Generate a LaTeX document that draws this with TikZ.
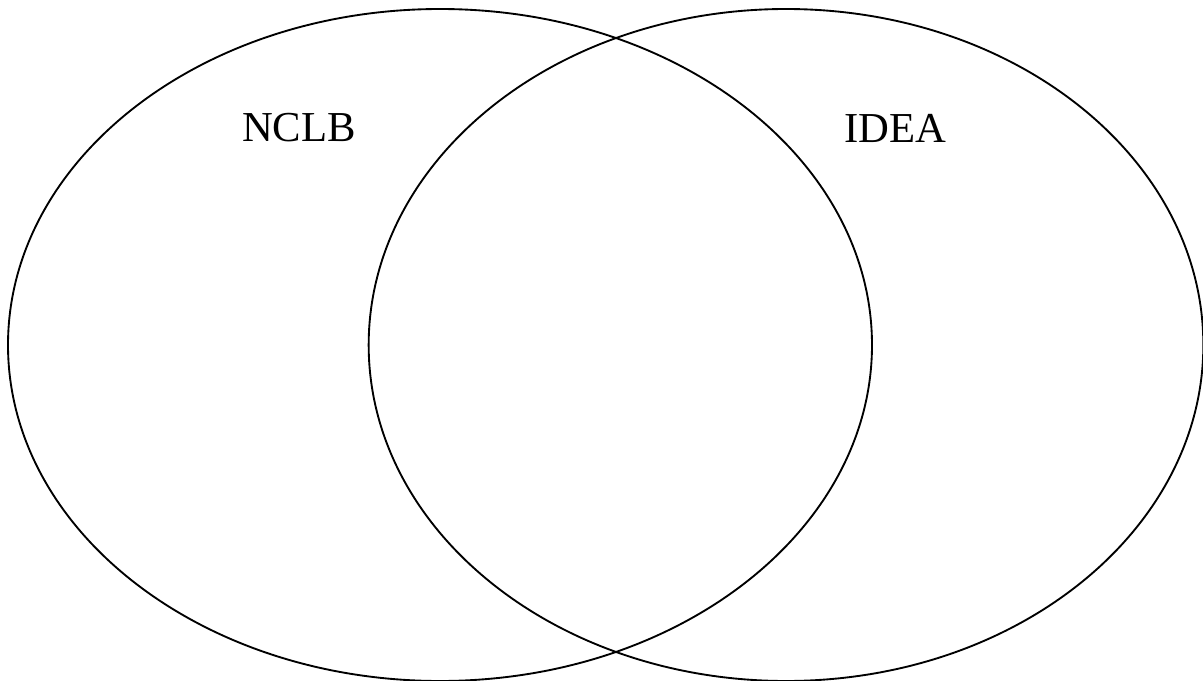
\documentclass[tikz,border=0pt]{standalone}
\usepackage{fontspec}
\setmainfont{Liberation Serif}
\usepackage{tikz}
\usetikzlibrary{shapes.geometric}

\tikzset{
  set/.style={draw, ellipse, line width=1.4pt, inner sep=0pt, minimum height=504pt},
  setname/.style={font=\fontsize{32}{38}\selectfont}
}

\begin{document}
\begin{tikzpicture}[x=0.75pt, y=-0.75pt]
    \useasboundingbox (0,0) rectangle (1203,681);

    \node[set, minimum width=648pt] (NCLBset) at (440,345) {};
    \node[set, minimum width=626pt] (IDEAset) at (786,345) {};

    \node[setname] (NCLB) at (299,128) {NCLB};
    \node[setname] (IDEA) at (895,128) {IDEA};
  \end{tikzpicture}
\end{document}
